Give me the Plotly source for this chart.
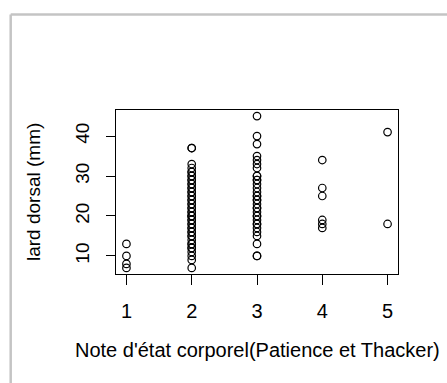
import plotly.graph_objects as go

# Data
note_1 = [7, 8, 10, 13]
note_2 = [7, 9, 10, 11, 12, 12, 13, 13, 14, 15, 15, 16, 16, 17, 17, 18, 18, 19, 19,
          20, 20, 20, 21, 21, 22, 22, 23, 23, 24, 24, 25, 25, 26, 26, 27, 27, 28, 28,
          29, 29, 30, 30, 31, 31, 32, 33, 37, 37]
note_3 = [10, 10, 13, 15, 16, 17, 18, 18, 19, 20, 20, 21, 22, 22, 23, 24, 24, 25, 25,
          26, 27, 28, 29, 29, 30, 30, 32, 33, 34, 35, 38, 40, 45]
note_4 = [17, 18, 19, 25, 27, 34]
note_5 = [18, 41]

groups = [1, 2, 3, 4, 5]
values = [note_1, note_2, note_3, note_4, note_5]

x_ticks = [1, 2, 3, 4, 5]
y_ticks = [10, 20, 30, 40]

xs, ys = [], []
for g, v in zip(groups, values):
    xs += [g] * len(v)
    ys += v

FONT = "Liberation Sans, Arial, sans-serif"

fig = go.Figure()
fig.add_trace(go.Scatter(
    x=xs, y=ys, mode="markers",
    marker=dict(symbol="circle-open", size=7.5, color="black",
                line=dict(width=1.2, color="black")),
    showlegend=False, hoverinfo="x+y",
))

# R-style range extension (4%)
ymin, ymax = min(ys), max(ys)
dy = (ymax - ymin) * 0.04
xmin, xmax = min(groups), max(groups)
dx = (xmax - xmin) * 0.04

L, R, T, B = 116, 49, 110, 109
W, H = 447, 383
pw = W - L - R
ph = H - T - B

fig.update_layout(
    width=W, height=H,
    margin=dict(l=L, r=R, t=T, b=B, pad=0),
    paper_bgcolor="white", plot_bgcolor="white",
    font=dict(family=FONT, size=16, color="black"),
    xaxis=dict(range=[xmin - dx, xmax + dx], tickvals=x_ticks,
               ticktext=[str(t) for t in x_ticks],
               showgrid=False, zeroline=False, showline=True, mirror=True,
               linecolor="black", linewidth=1, ticks="outside", ticklen=10,
               tickwidth=1, tickcolor="black", ticklabelstandoff=9,
               tickfont=dict(family=FONT, size=20, color="black")),
    yaxis=dict(range=[ymin - dy, ymax + dy], tickvals=y_ticks,
               ticktext=[str(t) for t in y_ticks],
               showgrid=False, zeroline=False, showline=True, mirror=True,
               linecolor="black", linewidth=1, ticks="outside", ticklen=9,
               tickwidth=1, tickcolor="black", tickangle=-90,
               ticklabelstandoff=9,
               tickfont=dict(family=FONT, size=19, color="black")),
    annotations=[
        dict(text="Note d'état corporel(Patience et Thacker)", xref="paper", yref="paper",
             x=0.5, y=0, xanchor="center", yanchor="middle", yshift=-76,
             showarrow=False, font=dict(family=FONT, size=20, color="black")),
        dict(text="lard dorsal (mm)", xref="paper", yref="paper",
             x=0, y=0.5, xanchor="center", yanchor="middle", xshift=-83,
             textangle=-90, showarrow=False,
             font=dict(family=FONT, size=19, color="black")),
    ],
    shapes=[
        dict(type="line", xref="paper", yref="paper",
             x0=(10.7 - L) / pw, x1=(W + 5 - L) / pw,
             y0=1 + (T - 14.5) / ph, y1=1 + (T - 14.5) / ph,
             line=dict(color="#c4c4c4", width=2.5), layer="above"),
        dict(type="line", xref="paper", yref="paper",
             x0=(10.7 - L) / pw, x1=(10.7 - L) / pw,
             y0=1 + (T - 14.5) / ph, y1=-(H + 5 - T - ph) / ph,
             line=dict(color="#c4c4c4", width=2.5), layer="above"),
    ],
)

fig.write_html("out.html")
